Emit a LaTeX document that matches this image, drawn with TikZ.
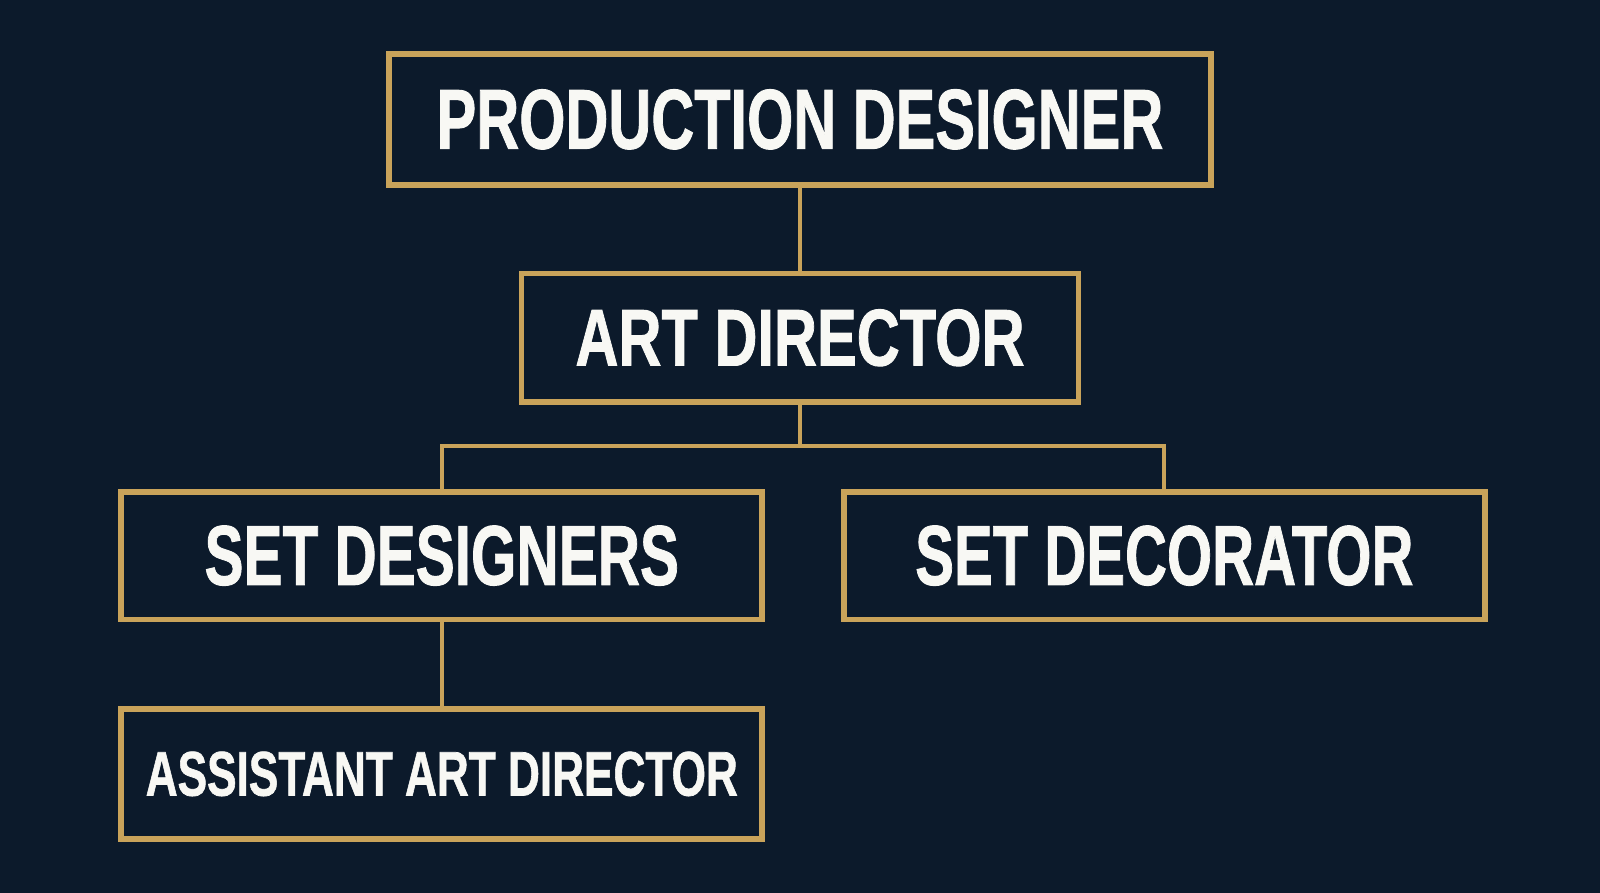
\documentclass[tikz,border=0pt]{standalone}
\usepackage{fontspec}
\setmainfont{Liberation Sans}
\newfontfamily\heavyfont[FakeBold=1.2]{Liberation Sans Bold}
\usepackage{graphicx}
\definecolor{bgnavy}{HTML}{0C1A2B}
\definecolor{gold}{HTML}{C9A35A}
\definecolor{txtwhite}{HTML}{F8F8F4}
\begin{document}
\begin{tikzpicture}[x=1pt,y=-1pt,
  rolebox/.style={draw=gold, line width=5.8pt, fill=bgnavy, inner sep=0pt, text=txtwhite, font=\heavyfont},
  link/.style={draw=gold, line width=4pt}]
\fill[bgnavy] (0,0) rectangle (1600,893);
\useasboundingbox (0,0) rectangle (1600,893);
\node[rolebox, minimum width=822pt, minimum height=130.6pt] (pd) at (800,119.4) {\resizebox{726.5pt}{59.2pt}{PRODUCTION DESIGNER}};
\node[rolebox, minimum width=557pt, minimum height=128.6pt] (ad) at (800,337.8) {\resizebox{449pt}{56.1pt}{ART DIRECTOR}};
\node[rolebox, minimum width=641pt, minimum height=127.6pt] (sd) at (441.8,555.6) {\resizebox{474.5pt}{59.2pt}{SET DESIGNERS}};
\node[rolebox, minimum width=641pt, minimum height=127.6pt] (sdec) at (1164.3,555.6) {\resizebox{498pt}{59.2pt}{SET DECORATOR}};
\node[rolebox, minimum width=641pt, minimum height=129.6pt] (aad) at (441.8,773.9) {\resizebox{592pt}{43.9pt}{ASSISTANT ART DIRECTOR}};
\coordinate (bus) at (800,445.9);
\draw[link] (pd.south) -- (ad.north);
\draw[link] (ad.south) -- (bus);
\draw[link] (sd.north) |- (bus) -| (sdec.north);
\draw[link] (sd.south) -- (aad.north);
\end{tikzpicture}
\end{document}
